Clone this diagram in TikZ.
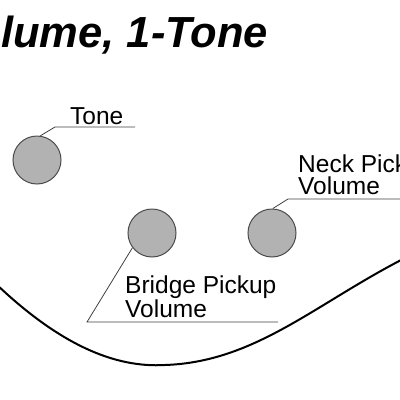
\documentclass[tikz,border=0pt]{standalone}
\usepackage{fontspec}
\setmainfont{Liberation Sans}
\usetikzlibrary{positioning,calc}

\tikzset{
  knob/.style={circle, draw=black!70, fill=gray!60, line width=1pt, minimum size=48pt, inner sep=0pt},
  leader/.style={black!75, line width=0.8pt},
  label/.style={anchor=base west, inner sep=0pt, align=left, font=\fontsize{24.5}{22}\selectfont}
}

\begin{document}
\begin{tikzpicture}[x=1pt, y=-1pt]
    \useasboundingbox (0,0) rectangle (400,400);
    \clip (0,0) rectangle (400,400);

    % Title
    \node[anchor=base west, inner sep=0pt, font=\fontsize{43.5}{43.5}\selectfont\bfseries\itshape] (title) at (1,47) {lume, 1-Tone};

    % Body outline
    \draw[line width=2pt] (-5,283) .. controls (60,345) and (115,368) .. (165,365)
        .. controls (255,362) and (315,304) .. (405,258);

    % Knobs
    \node[knob] (tone) at (37,160) {};
    \node[knob] (bridge) at (152,233) {};
    \node[knob] (neck) at (272,233) {};

    % Tone
    \node[label] (tonetext) at (70,124) {Tone};
    \coordinate (t1) at (55,127);
    \coordinate (t2) at (135,127);
    \draw[leader] (tone.82) -- (t1) -- (t2);

    % Bridge pickup volume
    \node[label] (bridgetext) at (125,317) {Bridge Pickup\\Volume};
    \coordinate (b1) at (87,322);
    \coordinate (b2) at (278,322);
    \draw[leader] (bridge.217) -- (b1) -- (b2);

    % Neck pickup volume
    \node[label] (necktext) at (298,194) {Neck Pick\\Volume};
    \coordinate (n1) at (288,199);
    \coordinate (n2) at (402,199);
    \draw[leader] (neck.88) -- (n1) -- (n2);
\end{tikzpicture}
\end{document}
